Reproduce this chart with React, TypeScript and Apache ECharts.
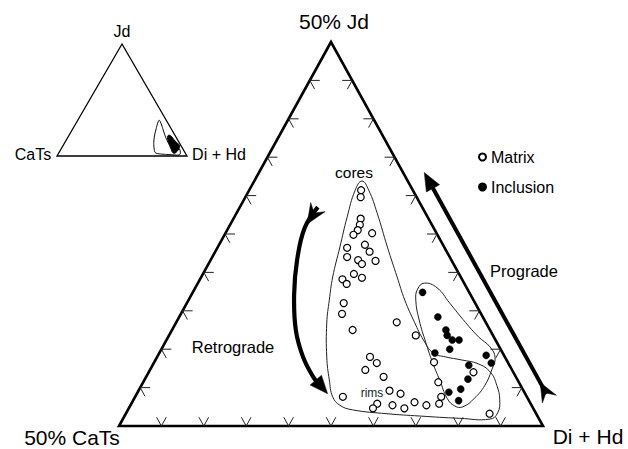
import React, { useEffect, useRef } from "react";
import * as echarts from "echarts";

// Compositions are [Jd %, CaTs %]; Di + Hd is the remainder.
// Main diagram: apex = 50% Jd, left = 50% CaTs, right = 100% Di + Hd.
const matrixPoints: number[][] = [
  [30.7, 6.1], [29.8, 6.6], [27.0, 8.0], [26.2, 8.5], [25.5, 9.1], [24.9, 9.9],
  [25.1, 7.6], [23.6, 9.2], [23.2, 11.5], [22.7, 9.1], [22.0, 12.1], [21.6, 11.0],
  [21.1, 10.8], [21.5, 9.0], [19.8, 12.4], [19.3, 11.7], [19.1, 14.1], [18.5, 13.9],
  [16.0, 15.5], [14.6, 16.4], [12.5, 16.2], [13.5, 10.5], [11.8, 9.1], [9.0, 15.9],
  [8.2, 15.5], [7.3, 17.3], [6.4, 15.6], [3.8, 21.7], [4.6, 15.8], [4.2, 14.7],
  [2.9, 18.1], [2.3, 18.9], [2.7, 16.4], [2.3, 15.2], [3.1, 13.6], [2.7, 12.4],
  [2.9, 10.8], [3.8, 10.1], [5.7, 9.5], [8.3, 8.7], [7.0, 4.7], [1.6, 5.5],
];

const inclusionPoints: number[][] = [
  [17.4, 5.5], [14.2, 5.3], [12.5, 5.2], [11.8, 5.4], [11.2, 5.1], [11.2, 4.3],
  [10.0, 6.0], [9.5, 8.0], [9.2, 2.1], [8.2, 2.0], [7.9, 4.8], [6.1, 5.8],
  [4.8, 7.3], [4.4, 8.9], [3.3, 8.3],
];

// Envelope of all matrix analyses (cores + rims)
const matrixField: number[][] = [
  [31.9, 5.4], [30.7, 5.2], [27.7, 5.7], [23.3, 6.7], [19.4, 7.5], [16.4, 8.1],
  [13.5, 8.4], [11.2, 8.5], [9.5, 8.2], [9.0, 7.0], [8.6, 5.3], [8.1, 3.6],
  [7.0, 2.7], [5.3, 2.8], [3.4, 3.4], [1.7, 4.5], [0.9, 5.8], [1.0, 9.3],
  [1.3, 13.9], [1.6, 17.6], [2.1, 21.4], [2.7, 22.6], [3.8, 22.9], [6.0, 22.2],
  [9.0, 21.0], [13.4, 18.8], [16.4, 17.0], [19.4, 15.1], [23.3, 12.3], [27.2, 9.5],
  [30.7, 6.8],
];

// Envelope of inclusion analyses
const inclusionField: number[][] = [
  [18.6, 4.7], [18.0, 3.5], [16.0, 3.0], [13.5, 2.4], [11.6, 1.8], [10.3, 1.1],
  [8.9, 1.2], [7.3, 2.4], [5.3, 4.2], [3.6, 6.3], [2.5, 8.2], [2.6, 9.1],
  [3.6, 9.5], [5.9, 9.2], [8.2, 8.9], [10.8, 8.4], [13.8, 7.7], [16.4, 6.8],
  [17.8, 5.9],
];

// Arrows (tail first, head last)
const progradePath: number[][] = [[3.5, -2.5], [33.0, -2.5]];
const retrogradePath: number[][] = [
  [28.5, 12.3], [25.8, 15.2], [21.6, 18.2], [17.1, 20.8], [12.5, 22.9],
  [9.0, 23.8], [6.3, 23.9], [4.2, 23.3],
];

const tickFractions = [0.1, 0.2, 0.3, 0.4, 0.5, 0.6, 0.7, 0.8, 0.9];

const mainVertices: number[][] = [[50, 0], [0, 50], [0, 0]]; // apex, left, right
const insetVertices: number[][] = [[100, 0], [0, 100], [0, 0]];

const FONT = "'Liberation Sans', Arial, Helvetica, sans-serif";

const toMain = (p: number[]) => {
  const J = p[0] / 50;
  const C = p[1] / 50;
  const D = 1 - J - C;
  return [D + J / 2, J];
};
const toInset = (p: number[]) => {
  const J = p[0] / 100;
  const C = p[1] / 100;
  const D = 1 - J - C;
  return [D + J / 2, J];
};

const unit = (p: number[], q: number[]) => {
  const dx = q[0] - p[0];
  const dy = q[1] - p[1];
  const n = Math.hypot(dx, dy) || 1;
  return [dx / n, dy / n];
};

const headPolygon = (tip: number[], from: number[], len: number, half: number) => {
  const u = unit(from, tip);
  const n = [-u[1], u[0]];
  const base = [tip[0] - u[0] * len, tip[1] - u[1] * len];
  return {
    type: "polygon",
    shape: {
      points: [
        tip,
        [base[0] + n[0] * half, base[1] + n[1] * half],
        [base[0] - n[0] * half, base[1] - n[1] * half],
      ],
    },
    style: { fill: "#000", stroke: "#000", lineWidth: 0.5 },
  };
};

const fletchPolygon = (tail: number[], toward: number[], len: number, half: number, notch: number) => {
  const u = unit(tail, toward);
  const n = [-u[1], u[0]];
  return {
    type: "polygon",
    shape: {
      points: [
        [tail[0] + n[0] * half, tail[1] + n[1] * half],
        [tail[0] + u[0] * notch, tail[1] + u[1] * notch],
        [tail[0] - n[0] * half, tail[1] - n[1] * half],
        [tail[0] + u[0] * len, tail[1] + u[1] * len],
      ],
    },
    style: { fill: "#000", stroke: "#000", lineWidth: 0.5 },
  };
};

export default function App() {
  const ref = useRef<HTMLDivElement>(null);

  useEffect(() => {
    if (!ref.current) return;
    const chart = echarts.init(ref.current, undefined, { renderer: "svg" });

    const hiddenAxis = (gridIndex: number) => ({
      type: "value",
      gridIndex,
      min: 0,
      max: 1,
      show: false,
    });

    const option: any = {
      animation: false,
      backgroundColor: "#fff",
      grid: [
        { left: 119, top: 42, width: 424, height: 384 },
        { left: 57, top: 44, width: 130, height: 112 },
      ],
      xAxis: [hiddenAxis(0), hiddenAxis(1)],
      yAxis: [hiddenAxis(0), hiddenAxis(1)],
      legend: {
        orient: "vertical",
        left: 478,
        top: 149,
        padding: 0,
        itemWidth: 7,
        itemHeight: 7,
        itemGap: 14,
        textStyle: { fontSize: 16, fontFamily: FONT, color: "#000" },
        data: ["Matrix", "Inclusion"],
      },
      series: [
        {
          type: "custom",
          name: "frame",
          xAxisIndex: 0,
          yAxisIndex: 0,
          clip: false,
          silent: true,
          z: 1,
          data: [[0, 0]],
          renderItem: (_p: any, api: any) => {
            const [A, L, R] = mainVertices.map((v) => api.coord(toMain(v)));
            const children: any[] = [
              {
                type: "polygon",
                shape: { points: [A, L, R] },
                style: { fill: "none", stroke: "#000", lineWidth: 2.6, lineJoin: "miter" },
              },
            ];
            const T = 10;
            const edges = [
              [L, R, unit(L, A), unit(R, A)],
              [L, A, unit(L, R), unit(A, R)],
              [R, A, unit(R, L), unit(A, L)],
            ];
            for (const [P0, P1, u1, u2] of edges) {
              for (const t of tickFractions) {
                const P = [P0[0] + (P1[0] - P0[0]) * t, P0[1] + (P1[1] - P0[1]) * t];
                children.push({
                  type: "polyline",
                  shape: {
                    points: [
                      [P[0] + u1[0] * T, P[1] + u1[1] * T],
                      P,
                      [P[0] + u2[0] * T, P[1] + u2[1] * T],
                    ],
                  },
                  style: { fill: "none", stroke: "#222", lineWidth: 1 },
                });
              }
            }
            return { type: "group", children };
          },
        },
        {
          type: "custom",
          name: "fields",
          xAxisIndex: 0,
          yAxisIndex: 0,
          clip: false,
          silent: true,
          z: 2,
          data: [[0, 0]],
          renderItem: (_p: any, api: any) => {
            const mf = matrixField.map((p) => api.coord(toMain(p)));
            const inc = inclusionField.map((p) => api.coord(toMain(p)));
            return {
              type: "group",
              children: [
                {
                  type: "polygon",
                  shape: { points: mf, smooth: 0.45 },
                  style: { fill: "none", stroke: "#222", lineWidth: 1 },
                },
                {
                  type: "polygon",
                  shape: { points: inc, smooth: 0.45 },
                  style: { fill: "none", stroke: "#222", lineWidth: 1 },
                },
              ],
            };
          },
        },
        {
          type: "custom",
          name: "arrows",
          xAxisIndex: 0,
          yAxisIndex: 0,
          clip: false,
          silent: true,
          z: 3,
          data: [[0, 0]],
          renderItem: (_p: any, api: any) => {
            const pro = progradePath.map((p) => api.coord(toMain(p)));
            const ret = retrogradePath.map((p) => api.coord(toMain(p)));
            const children: any[] = [];
            // prograde
            const pTail = pro[0];
            const pTip = pro[pro.length - 1];
            const pu = unit(pTail, pTip);
            children.push({
              type: "line",
              shape: {
                x1: pTail[0] + pu[0] * 6,
                y1: pTail[1] + pu[1] * 6,
                x2: pTip[0] - pu[0] * 12,
                y2: pTip[1] - pu[1] * 12,
              },
              style: { stroke: "#000", lineWidth: 4 },
            });
            children.push(headPolygon(pTip, pTail, 18, 7.5));
            children.push(fletchPolygon(pTail, pTip, 19, 8, 7));
            // retrograde
            const rTip = ret[ret.length - 1];
            const rPrev = ret[ret.length - 2];
            const ru = unit(rPrev, rTip);
            const rBase = [rTip[0] - ru[0] * 12, rTip[1] - ru[1] * 12];
            const rLine = ret.slice(0, ret.length - 1).concat([rBase]);
            children.push({
              type: "polyline",
              shape: { points: rLine, smooth: 0.4 },
              style: { fill: "none", stroke: "#000", lineWidth: 4.2 },
            });
            children.push(headPolygon(rTip, rPrev, 18, 7.5));
            children.push(fletchPolygon(ret[0], ret[1], 20, 8.5, 7));
            return { type: "group", children };
          },
        },
        {
          type: "scatter",
          name: "Matrix",
          xAxisIndex: 0,
          yAxisIndex: 0,
          z: 5,
          symbol: "circle",
          symbolSize: 7,
          itemStyle: { color: "#fff", borderColor: "#000", borderWidth: 1.2, opacity: 1 },
          data: matrixPoints.map(toMain),
        },
        {
          type: "scatter",
          name: "Inclusion",
          xAxisIndex: 0,
          yAxisIndex: 0,
          z: 6,
          symbol: "circle",
          symbolSize: 7,
          itemStyle: { color: "#000", borderColor: "#000", borderWidth: 0.5, opacity: 1 },
          data: inclusionPoints.map(toMain),
        },
        {
          type: "custom",
          name: "inset",
          xAxisIndex: 1,
          yAxisIndex: 1,
          clip: false,
          silent: true,
          z: 2,
          data: [[0, 0]],
          renderItem: (_p: any, api: any) => {
            const [A, L, R] = insetVertices.map((v) => api.coord(toInset(v)));
            const mf = matrixField.map((p) => api.coord(toInset(p)));
            const inc = inclusionField.map((p) => api.coord(toInset(p)));
            return {
              type: "group",
              children: [
                {
                  type: "polygon",
                  shape: { points: [A, L, R] },
                  style: { fill: "none", stroke: "#000", lineWidth: 1.3, lineJoin: "miter" },
                },
                {
                  type: "polygon",
                  shape: { points: mf, smooth: 0.45 },
                  style: { fill: "#fff", stroke: "#000", lineWidth: 1 },
                },
                {
                  type: "polygon",
                  shape: { points: inc, smooth: 0.45 },
                  style: { fill: "#000", stroke: "#000", lineWidth: 1 },
                },
              ],
            };
          },
        },
      ],
      graphic: [
        { text: "50% Jd", x: 334, y: 21, size: 21, color: "#000" },
        { text: "50% CaTs", x: 72, y: 437, size: 21, color: "#000" },
        { text: "Di + Hd", x: 588, y: 436, size: 21, color: "#000" },
        { text: "Jd", x: 122, y: 31, size: 16, color: "#000" },
        { text: "CaTs", x: 33, y: 154, size: 16, color: "#000" },
        { text: "Di + Hd", x: 219, y: 154, size: 16, color: "#000" },
        { text: "cores", x: 354, y: 172, size: 15.5, color: "#000" },
        { text: "rims", x: 372, y: 393, size: 12, color: "#222" },
        { text: "Retrograde", x: 233, y: 347, size: 16.5, color: "#000" },
        { text: "Prograde", x: 524, y: 271, size: 16.5, color: "#000" },
      ].map((t) => ({
        type: "text",
        x: t.x,
        y: t.y,
        silent: true,
        style: {
          text: t.text,
          fontSize: t.size,
          fontFamily: FONT,
          fill: t.color,
          align: "center",
          verticalAlign: "middle",
        },
      })),
    };

    chart.setOption(option);
    return () => chart.dispose();
  }, []);

  return (
    <div
      ref={ref}
      style={{ position: "fixed", left: 0, top: 0, width: 628, height: 449 }}
    />
  );
}
